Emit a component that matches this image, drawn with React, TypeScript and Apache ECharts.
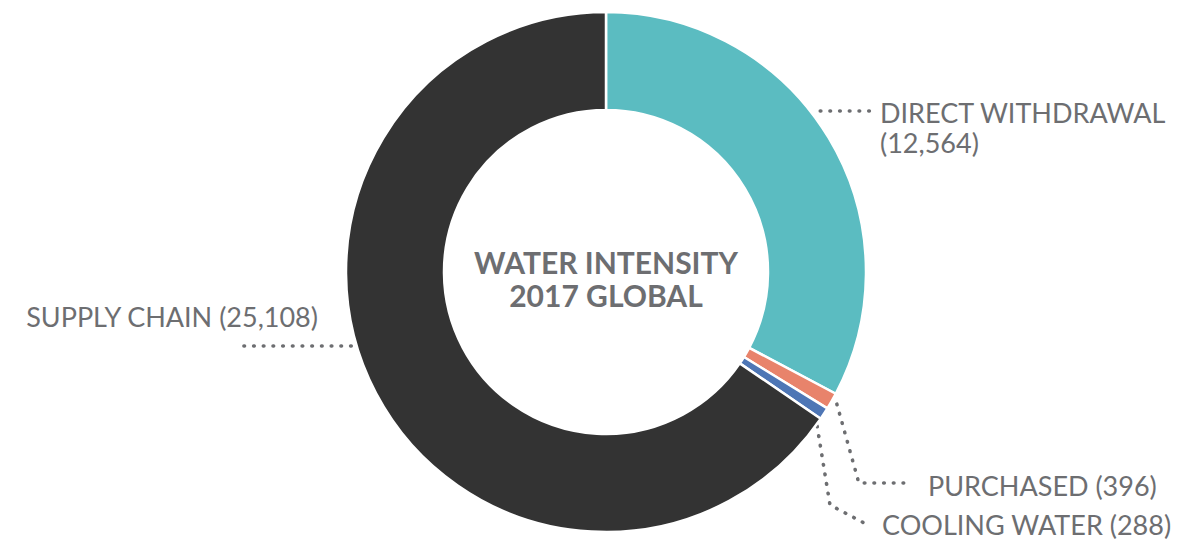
import React, { useEffect, useRef } from 'react';
import * as echarts from 'echarts';

const categories = ['DIRECT WITHDRAWAL', 'PURCHASED', 'COOLING WATER', 'SUPPLY CHAIN'];
const values = [12564, 396, 288, 25108];
const colors = ['#5bbcc1', '#e8836b', '#4e76b5', '#333333'];
const labelSeparators = ['\n', ' ', ' ', ' '];
const centerTitle = ['WATER INTENSITY', '2017 GLOBAL'];

const CX = 606;
const CY = 272;
const R_IN = 162;
const R_OUT = 260;
const GREY = '#6d6e71';
const FONT = 'Lato, "Open Sans", sans-serif';

export default function App() {
  const ref = useRef<HTMLDivElement>(null);
  useEffect(() => {
    document.body.style.margin = '0';
    const chart = echarts.init(ref.current!, null, { renderer: 'svg' });
    const total = values.reduce((a, b) => a + b, 0);
    const mids: number[] = [];
    let acc = 0;
    values.forEach((v) => {
      mids.push(((acc + v / 2) / total) * 360);
      acc += v;
    });
    const polar = (deg: number, r: number): number[] => {
      const a = (deg * Math.PI) / 180;
      return [CX + r * Math.sin(a), CY - r * Math.cos(a)];
    };
    const edgeX = (y: number, r: number, side: number) =>
      CX + side * Math.sqrt(r * r - (y - CY) * (y - CY));

    chart.setOption({
      animation: false,
      graphic: [
        {
          type: 'text',
          x: CX,
          y: CY + 6,
          silent: true,
          style: {
            text: centerTitle.join('\n'),
            fill: GREY,
            font: `bold 30px ${FONT}`,
            lineHeight: 33,
            align: 'center',
            verticalAlign: 'middle',
          },
        },
      ],
      series: [
        {
          type: 'pie',
          center: [CX, CY],
          radius: [R_IN, R_OUT],
          startAngle: 90,
          clockwise: true,
          silent: true,
          emphasis: { disabled: true },
          itemStyle: { borderColor: '#ffffff', borderWidth: 2.5 },
          data: categories.map((name, i) => ({
            name,
            value: values[i],
            itemStyle: { color: colors[i] },
          })),
          label: {
            show: true,
            position: 'outside',
            color: GREY,
            fontFamily: FONT,
            fontSize: 27,
            lineHeight: 30,
            formatter: (p: any) =>
              `${p.name}${labelSeparators[p.dataIndex]}(${Number(p.value).toLocaleString('en-US')})`,
          },
          labelLine: {
            show: true,
            smooth: false,
            lineStyle: { color: GREY, width: 3.6, type: [0.6, 9.1], cap: 'round' },
          },
          labelLayout: (p: any) => {
            const i = p.dataIndex;
            if (i === 0) {
              const y = 111;
              const x0 = edgeX(y, R_OUT + 8, 1);
              return {
                x: 880,
                y: 97,
                align: 'left',
                verticalAlign: 'top',
                labelLinePoints: [[x0, y], [x0 + 1, y], [870, y]],
              };
            }
            if (i === 3) {
              const y = 346;
              const x0 = edgeX(y, R_OUT - 4, -1);
              return {
                x: 318,
                y: 316,
                align: 'right',
                verticalAlign: 'middle',
                labelLinePoints: [[x0, y], [x0 - 1, y], [243, y]],
              };
            }
            if (i === 1) {
              const p0 = polar(mids[i], R_OUT + 6);
              return {
                x: 928,
                y: 485,
                align: 'left',
                verticalAlign: 'middle',
                labelLinePoints: [p0, [p0[0] + 22, 483], [912, 483]],
              };
            }
            const p0 = polar(mids[i], R_OUT - 12);
            return {
              x: 882,
              y: 524,
              align: 'left',
              verticalAlign: 'middle',
              labelLinePoints: [p0, [p0[0] + 16, 505], [868, 525]],
            };
          },
        },
      ],
    });
    return () => chart.dispose();
  }, []);
  return <div ref={ref} style={{ width: 1196, height: 545 }} />;
}
